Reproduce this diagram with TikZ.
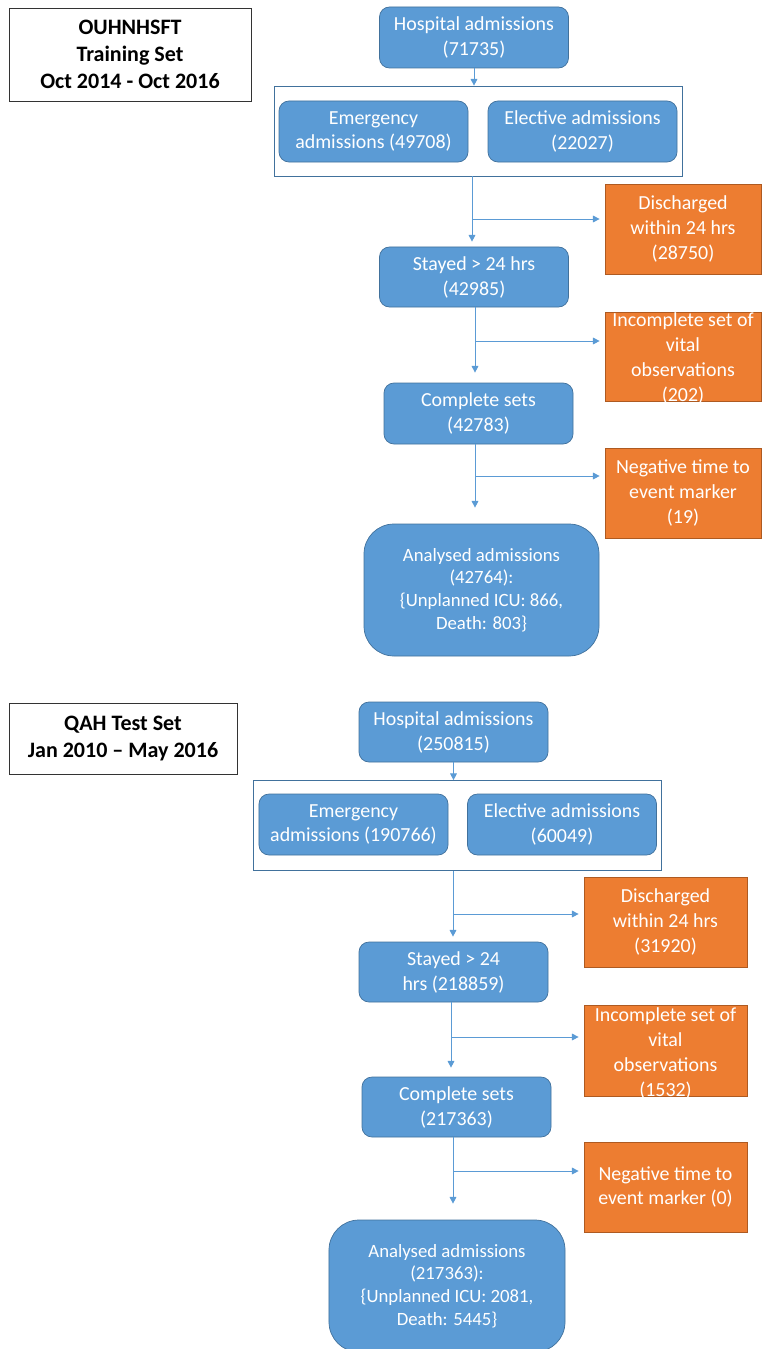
\documentclass[tikz,border=0pt]{standalone}
\usepackage{fontspec}
\setmainfont{Carlito}
\usetikzlibrary{arrows.meta}
\definecolor{boxblue}{HTML}{5B9BD5}
\definecolor{edgeblue}{HTML}{41719C}
\definecolor{boxorange}{HTML}{ED7D31}
\definecolor{edgeorange}{HTML}{AE5A21}
\begin{document}
\begin{tikzpicture}[x=0.03cm, y=-0.03cm,
  stage/.style={draw=edgeblue, fill=boxblue, rounded corners=0.3cm, line width=0.6pt, text=white, align=center, inner sep=0pt, minimum width=5.67cm, minimum height=1.83cm, font=\fontsize{17}{21.3}\selectfont},
  excl/.style={draw=edgeorange, fill=boxorange, line width=0.6pt, text=white, align=center, inner sep=0pt, minimum width=4.89cm, minimum height=2.7cm, font=\fontsize{17}{21.3}\selectfont},
  groupbox/.style={draw=edgeblue, line width=0.6pt, inner sep=0pt, minimum width=12.24cm, minimum height=2.7cm},
  setbox/.style={draw=black!80, line width=0.7pt, fill=white, align=center, inner sep=0pt, font=\fontsize{18.8}{23}\selectfont\bfseries},
  final/.style={stage, rounded corners=0.9cm, minimum width=7.05cm, minimum height=3.96cm, font=\fontsize{16}{19.4}\selectfont},
  flow/.style={-{Triangle[length=0.2cm, width=0.2cm]}, draw=boxblue, line width=0.8pt, shorten >=0.15cm}]
  \useasboundingbox (0,0) rectangle (762,1349);

  % training set
  \node (set1) [setbox, minimum width=7.26cm, minimum height=2.79cm] at (130,54.5) {OUHNHSFT\\Training Set\\Oct 2014 - Oct 2016};
  \node (hosp1) [stage] at (474,37.5) {Hospital admissions\\(71735)};
  \node (grp1) [groupbox] at (478,131) {};
  \node (emer1) [stage] at (373.5,131.5) {Emergency\\admissions (49708)};
  \node (elec1) [stage] at (582.5,131.5) {Elective admissions\\(22027)};
  \node (disc1) [excl, minimum width=4.68cm] at (683,229) {Discharged\\within 24 hrs\\(28750)};
  \node (stay1) [stage, minimum height=1.8cm] at (474,277) {Stayed > 24 hrs\\(42985)};
  \node (inc1) [excl, minimum width=4.68cm, minimum height=0pt, text height=2.67cm, text depth=0cm, anchor=north] at (683,312) {Incomplete set of\\vital\\observations\\(202)};
  \node (comp1) [stage] at (478.5,413.5) {Complete sets\\(42783)};
  \node (neg1) [excl, minimum width=4.68cm] at (683,493) {Negative time to\\event marker\\(19)};
  \node (ana1) [final] at (481.5,590) {Analysed admissions\\(42764):\\\{Unplanned ICU: 866,\\Death: 803\}};
  \coordinate (cut1) at (472,219);
  \coordinate (cut2) at (475,341);
  \coordinate (cut3) at (475,476);

  \draw [flow, shorten >=0pt] (hosp1.south) -- (hosp1.south |- grp1.north);
  \draw [flow] (cut1 |- grp1.south) -- (cut1 |- stay1.north);
  \draw [flow] (cut1) -- (cut1 -| disc1.west);
  \draw [flow, shorten >=0.3cm] (cut2 |- stay1.south) -- (cut2 |- comp1.north);
  \draw [flow] (cut2) -- (cut2 -| inc1.west);
  \draw [flow, shorten >=0.48cm] (cut3 |- comp1.south) -- (cut3 |- ana1.north);
  \draw [flow] (cut3) -- (cut3 -| neg1.west);

  % test set
  \node (set2) [setbox, minimum width=6.84cm, minimum height=2.13cm] at (123,738.5) {QAH Test Set\\Jan 2010 -- May 2016};
  \node (hosp2) [stage, minimum height=1.8cm] at (453.5,732) {Hospital admissions\\(250815)};
  \node (grp2) [groupbox] at (457,825.5) {};
  \node (emer2) [stage] at (353.5,824.5) {Emergency\\admissions (190766)};
  \node (elec2) [stage] at (562,824.5) {Elective admissions\\(60049)};
  \node (disc2) [excl] at (665.5,922) {Discharged\\within 24 hrs\\(31920)};
  \node (stay2) [stage, minimum height=1.8cm] at (453.5,972) {Stayed > 24\\hrs (218859)};
  \node (inc2) [excl, minimum height=0pt, text height=2.73cm, text depth=0cm, anchor=north] at (665.5,1005) {Incomplete set of\\vital\\observations\\(1532)};
  \node (comp2) [stage, minimum height=1.8cm] at (456.5,1107) {Complete sets\\(217363)};
  \node (neg2) [excl] at (665.5,1187) {Negative time to\\event marker (0)};
  \node (ana2) [final, minimum width=7.08cm] at (447,1286) {Analysed admissions\\(217363):\\\{Unplanned ICU: 2081,\\Death: 5445\}};
  \coordinate (cut4) at (453,914);
  \coordinate (cut5) at (451,1037);
  \coordinate (cut6) at (453,1171);

  \draw [flow, shorten >=0pt] (hosp2.south) -- (hosp2.south |- grp2.north);
  \draw [flow] (cut4 |- grp2.south) -- (cut4 |- stay2.north);
  \draw [flow] (cut4) -- (cut4 -| disc2.west);
  \draw [flow, shorten >=0.27cm] (cut5 |- stay2.south) -- (cut5 |- comp2.north);
  \draw [flow] (cut5) -- (cut5 -| inc2.west);
  \draw [flow, shorten >=0.48cm] (cut6 |- comp2.south) -- (cut6 |- ana2.north);
  \draw [flow] (cut6) -- (cut6 -| neg2.west);
\end{tikzpicture}
\end{document}
